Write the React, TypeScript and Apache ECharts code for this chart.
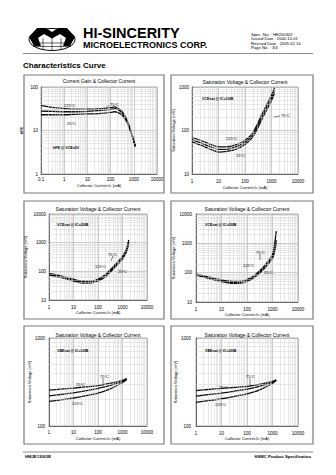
import React, { useEffect, useRef } from "react";
import * as echarts from "echarts";

// ---- Data ----
const tempLabels = ["125°C", "75°C", "25°C"];

// Panel 1: hFE vs Collector Current
const hfeIc = [0.1, 0.3, 1, 3, 10, 30, 100, 150, 200, 300, 400, 500, 700, 1000, 1150];
const hfe125 = [38, 34, 32, 31, 31, 31.5, 33.5, 35, 33, 28, 22, 18, 11, 6, 4.5];
const hfe75 = [28, 27.5, 27, 27, 27.5, 28.5, 30.5, 32, 30.5, 26, 21, 17, 10.5, 5.8, 4.4];
const hfe25 = [23, 23, 23, 23.5, 24, 24.5, 26, 27, 26, 23, 19, 16, 10, 5.5, 4.2];

// Panel 2: VCE(sat)
const p2Ic = [1, 2, 5, 10, 20, 50, 100, 200, 500, 1000, 1300];
const p2T125 = [70, 60, 48, 42, 42, 48, 60, 90, 280, 650, 950];
const p2T75 = [62, 53, 42, 37, 37, 43, 54, 80, 245, 560, 820];
const p2T25 = [55, 47, 37, 32, 33, 38, 48, 72, 215, 490, 720];

// Panel 3: VCE(sat)
const p3Ic = [1, 3, 10, 20, 50, 100, 200, 500, 1000, 1400, 1800];
const p3T125 = [84, 70, 53, 46, 45, 54, 78, 170, 330, 560, 1250];
const p3T75 = [79, 65, 49, 43, 42, 50, 72, 155, 300, 500, 1050];
const p3T25 = [74, 61, 46, 40, 39, 46, 65, 140, 270, 450, 900];

// Panel 4: VCE(sat)
const p4Ic = [1, 3, 10, 20, 50, 100, 200, 500, 1000, 1200, 1400];
const p4T125 = [90, 72, 57, 51, 50, 58, 82, 175, 420, 900, 2600];
const p4T75 = [86, 68, 53, 47, 46, 54, 76, 160, 360, 620, 1300];
const p4T25 = [82, 64, 50, 44, 43, 50, 70, 145, 310, 520, 1000];

// Panel 5: VBE(sat)
const p5Ic = [1, 3, 10, 30, 100, 300, 1000, 1500];
const p5T25 = [255, 262, 270, 278, 288, 305, 330, 345];
const p5T75 = [220, 228, 238, 250, 267, 288, 322, 342];
const p5T125 = [190, 198, 208, 220, 236, 262, 312, 338];

// Panel 6: VBE(sat)
const p6Ic = [1, 3, 10, 30, 100, 300, 1000, 1400];
const p6T25 = [253, 260, 267, 274, 282, 298, 322, 335];
const p6T75 = [219, 227, 236, 248, 262, 282, 315, 332];
const p6T125 = [186, 194, 204, 216, 232, 256, 305, 328];

const titleGain = "Current Gain & Collector Current";
const titleSat = "Saturation Voltage & Collector Current";
const xName = "Collector Current-Ic (mA)";
const ySat = "Saturation Voltage (mV)";

const FONT = "Liberation Sans, Arial, sans-serif";

type Panel = {
  grid: { left: number; top: number; width: number; height: number };
  xr: [number, number];
  yr: [number, number];
  x: number[];
  curves: number[][];
  title: string;
  yName: string;
  yGap: number;
  yMargin: number;
  xMargin: number;
  xGap: number;
  cond: string;
  condPos: [number, number];
  labels: { t: string; p: [number, number] }[];
  leader?: [number, number, number, number];
};

const panels: Panel[] = [
  {
    grid: { left: 41, top: 87, width: 116, height: 87 },
    xr: [0.1, 10000], yr: [1, 100], x: hfeIc, curves: [hfe125, hfe75, hfe25],
    title: titleGain, yName: "hFE", yGap: 18, yMargin: 3, xMargin: 3, xGap: 9,
    cond: "hFE @ VCE=5V", condPos: [53, 148],
    labels: [
      { t: tempLabels[0], p: [64, 105] },
      { t: tempLabels[1], p: [110, 104] },
      { t: tempLabels[2], p: [67, 123] },
    ],
    leader: [109, 105.5, 106, 108],
  },
  {
    grid: { left: 192, top: 87, width: 106, height: 87 },
    xr: [1, 10000], yr: [10, 1000], x: p2Ic, curves: [p2T125, p2T75, p2T25],
    title: titleSat, yName: ySat, yGap: 10, yMargin: 3, xMargin: 5, xGap: 11,
    cond: "VCEsat @ IC=10IB", condPos: [202, 99],
    labels: [
      { t: tempLabels[0], p: [226, 138] },
      { t: tempLabels[2], p: [236, 155] },
      { t: tempLabels[1], p: [281, 115] },
    ],
    leader: [280, 116, 274, 117],
  },
  {
    grid: { left: 49, top: 214, width: 98, height: 86 },
    xr: [1, 10000], yr: [10, 10000], x: p3Ic, curves: [p3T125, p3T75, p3T25],
    title: titleSat, yName: ySat, yGap: 22, yMargin: 3, xMargin: 5, xGap: 10,
    cond: "VCEsat @ IC=20IB", condPos: [57, 225],
    labels: [
      { t: tempLabels[1], p: [108, 254] },
      { t: tempLabels[0], p: [95, 266.5] },
      { t: tempLabels[2], p: [118, 271] },
    ],
    leader: [113, 256, 111, 261],
  },
  {
    grid: { left: 196, top: 214, width: 102, height: 88 },
    xr: [1, 10000], yr: [10, 10000], x: p4Ic, curves: [p4T125, p4T75, p4T25],
    title: titleSat, yName: ySat, yGap: 13, yMargin: 4, xMargin: 5, xGap: 10,
    cond: "VCEsat @ IC=50IB", condPos: [205, 225],
    labels: [
      { t: tempLabels[1], p: [256, 252] },
      { t: tempLabels[0], p: [243, 265.5] },
      { t: tempLabels[2], p: [264, 272] },
    ],
    leader: [260, 254, 260, 260],
  },
  {
    grid: { left: 49, top: 338, width: 98, height: 88 },
    xr: [1, 10000], yr: [100, 1000], x: p5Ic, curves: [p5T25, p5T75, p5T125],
    title: titleSat, yName: ySat, yGap: 15, yMargin: 4, xMargin: 4, xGap: 10,
    cond: "VBEsat @ IC=10IB", condPos: [57, 351],
    labels: [
      { t: tempLabels[2], p: [76, 384] },
      { t: tempLabels[1], p: [100, 376] },
      { t: tempLabels[0], p: [72, 403] },
    ],
    leader: [103, 378, 103, 386],
  },
  {
    grid: { left: 196, top: 338, width: 102, height: 88 },
    xr: [1, 10000], yr: [100, 1000], x: p6Ic, curves: [p6T25, p6T75, p6T125],
    title: titleSat, yName: ySat, yGap: 13, yMargin: 5, xMargin: 5, xGap: 10,
    cond: "VBEsat @ IC=20IB", condPos: [205, 351],
    labels: [
      { t: tempLabels[2], p: [219, 387] },
      { t: tempLabels[1], p: [246, 376] },
      { t: tempLabels[0], p: [215, 404] },
    ],
    leader: [250, 378, 250, 386],
  },
];

function minors(min: number, max: number): number[] {
  const out: number[] = [];
  for (let e = Math.floor(Math.log10(min)); e < Math.ceil(Math.log10(max)); e++) {
    const b = Math.pow(10, e);
    for (let m = 2; m <= 9; m++) {
      const v = Number((m * b).toPrecision(3));
      if (v > min && v < max) out.push(v);
    }
  }
  return out;
}

const fmt = (v: number) => String(Number(v.toPrecision(3)));

function buildOption() {
  const grid: any[] = [];
  const xAxis: any[] = [];
  const yAxis: any[] = [];
  const series: any[] = [];
  const graphic: any[] = [];

  // boxes
  const boxes = [
    [24, 75], [171, 75], [24, 201], [171, 201], [24, 326], [171, 326],
  ];
  boxes.forEach(([bx, by], i) => {
    graphic.push({
      type: "rect",
      shape: { x: bx, y: by, width: i % 2 === 0 ? 140 : 142, height: 118 },
      style: { fill: "none", stroke: "#7a7a7a", lineWidth: 1.2 },
      silent: true,
    });
  });

  panels.forEach((p, i) => {
    grid.push({
      ...p.grid,
      show: true,
      borderColor: "#777",
      borderWidth: 0.6,
      backgroundColor: "#fff",
    });
    xAxis.push({
      gridIndex: i,
      type: "log",
      logBase: 10,
      min: p.xr[0],
      max: p.xr[1],
      name: xName,
      nameLocation: "middle",
      nameGap: p.xGap,
      nameTextStyle: { fontSize: 4, color: "#000", fontFamily: FONT },
      axisLabel: { fontSize: 4.5, color: "#000", margin: p.xMargin, fontFamily: FONT, formatter: fmt },
      axisTick: { show: false },
      axisLine: { lineStyle: { color: "#555", width: 0.8 } },
      splitLine: { show: true, lineStyle: { color: "#a8a8a8", width: 0.6 } },
    });
    yAxis.push({
      gridIndex: i,
      type: "log",
      logBase: 10,
      min: p.yr[0],
      max: p.yr[1],
      name: p.yName,
      nameLocation: "middle",
      nameGap: p.yGap,
      nameRotate: 90,
      nameTextStyle: { fontSize: 4, color: "#000", fontFamily: FONT, fontWeight: p.yName === "hFE" ? "bold" : "normal" },
      axisLabel: { fontSize: 4.5, color: "#000", margin: p.yMargin, fontFamily: FONT, formatter: fmt },
      axisTick: { show: false },
      axisLine: { lineStyle: { color: "#555", width: 0.8 } },
      splitLine: { show: true, lineStyle: { color: "#a8a8a8", width: 0.6 } },
    });
    // minor grid lines
    series.push({
      type: "line",
      xAxisIndex: i,
      yAxisIndex: i,
      data: [[p.xr[0], p.yr[0]]],
      showSymbol: false,
      lineStyle: { opacity: 0 },
      silent: true,
      z: 1,
      markLine: {
        silent: true,
        symbol: ["none", "none"],
        label: { show: false },
        lineStyle: { color: "#d2d2d2", width: 0.5, type: "solid" },
        data: [
          ...minors(p.xr[0], p.xr[1]).map((v) => ({ xAxis: v })),
          ...minors(p.yr[0], p.yr[1]).map((v) => ({ yAxis: v })),
        ],
      },
    });
    p.curves.forEach((c) => {
      series.push({
        type: "line",
        xAxisIndex: i,
        yAxisIndex: i,
        data: p.x.map((v, j) => [v, c[j]]),
        smooth: 0.3,
        showSymbol: false,
        silent: true,
        z: 3,
        lineStyle: { color: "#111", width: 1.3 },
      });
    });
    const cx = p.grid.left + p.grid.width / 2;
    const titleY = [81, 81.5, 209, 209, 335, 335][i];
    graphic.push({
      type: "text",
      x: cx,
      y: titleY,
      style: { text: p.title, fontSize: 5, fill: "#000", fontFamily: FONT, align: "center", verticalAlign: "middle" },
      silent: true,
    });
    graphic.push({
      type: "text",
      x: p.condPos[0],
      y: p.condPos[1],
      style: { text: p.cond, fontSize: 3.6, fill: "#000", fontFamily: FONT, align: "left", verticalAlign: "middle", fontWeight: "bold" },
      silent: true,
      z: 10,
    });
    p.labels.forEach((l) => {
      graphic.push({
        type: "text",
        x: l.p[0],
        y: l.p[1],
        style: { text: l.t, fontSize: 4, fill: "#000", fontFamily: FONT, align: "left", verticalAlign: "middle" },
        silent: true,
        z: 10,
      });
    });
    if (p.leader) {
      graphic.push({
        type: "line",
        shape: { x1: p.leader[0], y1: p.leader[1], x2: p.leader[2], y2: p.leader[3] },
        style: { stroke: "#000", lineWidth: 0.5 },
        silent: true,
        z: 10,
      });
    }
  });

  // Header
  graphic.push(
    {
      type: "ellipse",
      shape: { cx: 52, cy: 39.5, rx: 23, ry: 11 },
      style: { fill: "none", stroke: "#000", lineWidth: 1 },
      silent: true,
    },
    ...[43, 46.5].map((y) => ({
      type: "line",
      shape: { x1: 33, y1: y, x2: 71, y2: y },
      style: { stroke: "#000", lineWidth: 0.6 },
      silent: true,
    })),
    ...[43, 52, 61].map((x) => ({
      type: "line",
      shape: { x1: x, y1: 38, x2: x, y2: 50 },
      style: { stroke: "#000", lineWidth: 0.6 },
      silent: true,
    })),
    {
      type: "polygon",
      shape: {
        points: [
          [29, 37], [37, 28], [46, 28], [52, 32], [58, 28], [67, 28], [75, 37],
          [70, 46], [63, 46], [66, 38], [60, 34], [52, 38.5], [44, 34], [38, 38], [41, 46], [34, 46],
        ],
      },
      style: { fill: "#000" },
      silent: true,
    },
    {
      type: "text",
      x: 83,
      y: 33,
      style: { text: "HI-SINCERITY", fontSize: 14.5, fontWeight: "bold", fill: "#000", fontFamily: FONT, verticalAlign: "middle" },
      silent: true,
    },
    {
      type: "text",
      x: 83,
      y: 44.8,
      style: { text: "MICROELECTRONICS CORP.", fontSize: 9, fontWeight: "bold", fill: "#000", fontFamily: FONT, verticalAlign: "middle" },
      silent: true,
    },
    ...[
      "Spec. No. : HE200302",
      "Issued Date : 2000.10.01",
      "Revised Date : 2005.02.14",
      "Page No. : 3/4",
    ].map((t, k) => ({
      type: "text",
      x: 251,
      y: 34 + k * 4.5,
      style: { text: t, fontSize: 4.2, fill: "#000", fontFamily: FONT, verticalAlign: "middle" },
      silent: true,
    })),
    {
      type: "line",
      shape: { x1: 23, y1: 53.5, x2: 313, y2: 53.5 },
      style: { stroke: "#8a8a8a", lineWidth: 1.2 },
      silent: true,
    },
    {
      type: "text",
      x: 23,
      y: 65.3,
      style: { text: "Characteristics Curve", fontSize: 8, fontWeight: "bold", fill: "#000", fontFamily: FONT, verticalAlign: "middle" },
      silent: true,
    },
    {
      type: "line",
      shape: { x1: 23, y1: 452, x2: 313, y2: 452 },
      style: { stroke: "#8a8a8a", lineWidth: 1.2 },
      silent: true,
    },
    {
      type: "text",
      x: 25,
      y: 456,
      style: { text: "HMJE13003E", fontSize: 4.2, fontWeight: "bold", fill: "#000", fontFamily: FONT, verticalAlign: "middle" },
      silent: true,
    },
    {
      type: "text",
      x: 311,
      y: 456,
      style: { text: "HSMC Product Specification", fontSize: 4.2, fontWeight: "bold", fill: "#000", fontFamily: FONT, verticalAlign: "middle", align: "right" },
      silent: true,
    }
  );

  return {
    animation: false,
    backgroundColor: "#fff",
    grid,
    xAxis,
    yAxis,
    series,
    graphic,
  };
}

export default function App() {
  const ref = useRef<HTMLDivElement>(null);
  useEffect(() => {
    document.body.style.margin = "0";
    const chart = echarts.init(ref.current as HTMLDivElement, null, { renderer: "svg" });
    chart.setOption(buildOption() as any);
    return () => chart.dispose();
  }, []);
  return (
    <div
      ref={ref}
      style={{ position: "absolute", left: 0, top: 0, width: 336, height: 475, background: "#fff" }}
    />
  );
}
